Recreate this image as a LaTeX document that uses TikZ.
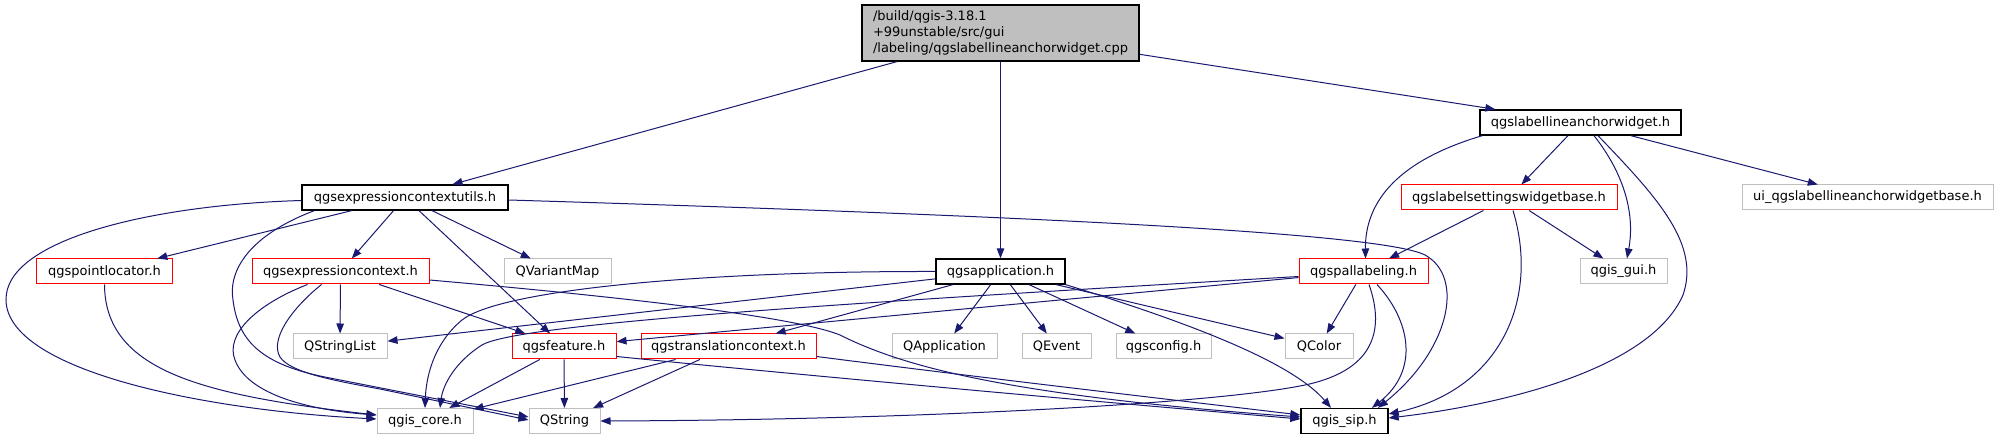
\documentclass[tikz,border=0pt]{standalone}
\usepackage{fontspec}
\setmainfont{DejaVu Sans}
\usetikzlibrary{arrows.meta}
\definecolor{edgeblue}{HTML}{191970}
\definecolor{graybd}{HTML}{BFBFBF}
\definecolor{rootfill}{HTML}{BFBFBF}
\definecolor{redbd}{HTML}{FF0000}
\begin{document}
\begin{tikzpicture}[x=1bp,y=-1bp,
  box/.style={draw, line width=1bp, inner sep=0pt, minimum height=25bp, font=\fontsize{13bp}{16bp}\selectfont, anchor=center},
  blackbox/.style={box, draw=black, line width=1.3bp},
  redbox/.style={box, draw=redbd},
  graybox/.style={box, draw=graybd},
  dep/.style={draw=edgeblue, line width=1bp, -{Triangle[length=10bp,width=7.5bp]}}]
\useasboundingbox (0,0) rectangle (1998,440);

% nodes
\node[blackbox, fill=rootfill, minimum width=277bp, minimum height=56bp, text width=255bp, align=left, inner xsep=11bp] (root) at (1000.5,33) {/build/qgis-3.18.1\\+99unstable/src/gui\\/labeling/qgslabellineanchorwidget.cpp};

\node[blackbox, minimum width=201bp] (lineanchor) at (1580.5,122.5) {qgslabellineanchorwidget.h};

\node[blackbox, minimum width=206bp] (ctxutils) at (405,197.5) {qgsexpressioncontextutils.h};
\node[redbox, minimum width=216bp] (labelsettings) at (1509,197.5) {qgslabelsettingswidgetbase.h};
\node[graybox, minimum width=251bp] (ui) at (1867.5,197.5) {ui\_qgslabellineanchorwidgetbase.h};

\node[redbox, minimum width=135bp] (pointlocator) at (104.5,271.5) {qgspointlocator.h};
\node[redbox, minimum width=177bp] (exprctx) at (340.5,271.5) {qgsexpressioncontext.h};
\node[graybox, minimum width=107bp] (qvariantmap) at (557.5,271.5) {QVariantMap};
\node[blackbox, minimum width=129bp] (qgsapp) at (1000.5,271.5) {qgsapplication.h};
\node[redbox, minimum width=129bp] (pallabeling) at (1363.5,271.5) {qgspallabeling.h};
\node[graybox, minimum width=87bp] (qgisgui) at (1623.5,271.5) {qgis\_gui.h};

\node[graybox, minimum width=94bp] (qstringlist) at (340,346.5) {QStringList};
\node[redbox, minimum width=104bp] (qgsfeature) at (564,346.5) {qgsfeature.h};
\node[redbox, minimum width=175bp] (translation) at (728.5,346.5) {qgstranslationcontext.h};
\node[graybox, minimum width=105bp] (qapplication) at (944.5,346.5) {QApplication};
\node[graybox, minimum width=69bp] (qevent) at (1056.5,346.5) {QEvent};
\node[graybox, minimum width=95bp] (qgsconfig) at (1163.5,346.5) {qgsconfig.h};
\node[graybox, minimum width=68bp] (qcolor) at (1319,346.5) {QColor};

\node[graybox, minimum width=96bp] (qgiscore) at (425,421) {qgis\_core.h};
\node[graybox, minimum width=71bp] (qstring) at (564.5,421) {QString};
\node[blackbox, minimum width=87bp] (qgissip) at (1344.5,421) {qgis\_sip.h};

% straight edges
\draw[dep] (root) -- (ctxutils);
\draw[dep] (root) -- (qgsapp);
\draw[dep] (root) -- (lineanchor);
\draw[dep] (lineanchor) -- (labelsettings);
\draw[dep] (lineanchor) -- (ui);
\draw[dep] (labelsettings) -- (pallabeling);
\draw[dep] (labelsettings) -- (qgisgui);
\draw[dep] (ctxutils) -- (pointlocator);
\draw[dep] (ctxutils) -- (exprctx);
\draw[dep] (ctxutils) -- (qvariantmap);
\draw[dep] (ctxutils) -- (qgsfeature);
\draw[dep] (exprctx) -- (qstringlist);
\draw[dep] (exprctx) -- (qgsfeature);
\draw[dep] (qgsfeature) -- (qgiscore);
\draw[dep] (qgsfeature) -- (qstring);
\draw[dep] (translation) -- (qgiscore);
\draw[dep] (translation) -- (qstring);
\draw[dep] (qgsapp) -- (qstringlist);
\draw[dep] (qgsapp) -- (translation);
\draw[dep] (qgsapp) -- (qapplication);
\draw[dep] (qgsapp) -- (qevent);
\draw[dep] (qgsapp) -- (qgsconfig);
\draw[dep] (qgsapp) -- (qcolor);
\draw[dep] (pallabeling) -- (qcolor);
\draw[dep] (pallabeling) -- (qgsfeature);

% curved edges
\draw[dep] ([xshift=3bp]lineanchor.south west) .. controls (1400,160) and (1365,200) .. ([xshift=2bp]pallabeling.north);
\draw[dep] ([xshift=13.5bp]lineanchor.south) .. controls (1625,175) and (1635,215) .. ([xshift=3.5bp]qgisgui.north);
\draw[dep] ([xshift=17.5bp]lineanchor.south) .. controls (1660,200) and (1700,245) .. (1683,295) .. controls (1650,370) and (1500,405) .. ([yshift=3bp]qgissip.east);
\draw[dep] ([xshift=4bp]labelsettings.south) .. controls (1540,300) and (1500,390) .. ([yshift=7bp]qgissip.east);

\draw[dep] ([yshift=-3bp]ctxutils.west) .. controls (150,205) and (5,240) .. (6,300) .. controls (7,370) and (200,410) .. ([yshift=2bp]qgiscore.west);
\draw[dep] (pointlocator.south) .. controls (105,370) and (200,395) .. ([yshift=6bp]qgiscore.west);
\draw[dep] ([xshift=13bp]ctxutils.south west) .. controls (250,235) and (228,270) .. (233,300) .. controls (238,340) and (260,365) .. (330,378) -- ([yshift=4bp]qstring.west);
\draw[dep] ([yshift=-2.5bp]ctxutils.east) .. controls (1000,215) and (1380,232) .. (1425,255) .. controls (1465,277) and (1450,350) .. ([xshift=33.5bp]qgissip.north);

\draw[dep] ([xshift=56bp]exprctx.south west) .. controls (255,305) and (225,335) .. (235,360) .. controls (248,395) and (310,410) .. ([yshift=6bp]qgiscore.west);
\draw[dep] ([xshift=70bp]exprctx.south west) .. controls (290,310) and (270,340) .. (280,357) .. controls (290,372) and (330,380) .. (380,389) -- ([yshift=1bp]qstring.west);
\draw[dep] ([yshift=-8.5bp]exprctx.east) .. controls (600,295) and (790,315) .. (840,335) .. controls (900,365) and (1000,395) .. ([yshift=4bp]qgissip.west);

\draw[dep] ([yshift=-10bp]qgsfeature.east) .. controls (800,375) and (1100,402) .. ([yshift=2bp]qgissip.west);
\draw[dep] ([yshift=-10bp]translation.east) .. controls (1000,380) and (1200,403) .. ([yshift=6bp]qgissip.west);

\draw[dep] (qgsapp.west) .. controls (700,271) and (500,290) .. (462,320) .. controls (432,345) and (426,380) .. (qgiscore.north);
\draw[dep] (qgsapp.south east) .. controls (1180,320) and (1290,360) .. ([xshift=-13.5bp]qgissip.north);

\draw[dep] ([yshift=-5bp]pallabeling.west) .. controls (900,300) and (520,322) .. (482,345) .. controls (455,362) and (443,385) .. ([xshift=15bp]qgiscore.north);
\draw[dep] ([xshift=5.5bp]pallabeling.south) .. controls (1385,330) and (1375,372) .. (1300,386) .. controls (1200,405) and (900,420) .. (qstring.east);
\draw[dep] ([xshift=13.5bp]pallabeling.south) .. controls (1410,320) and (1420,370) .. ([xshift=27.5bp]qgissip.north);
\end{tikzpicture}
\end{document}
